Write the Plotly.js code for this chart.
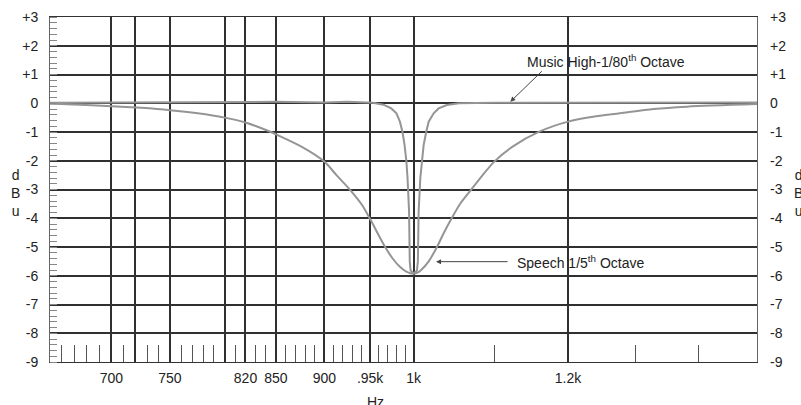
<!DOCTYPE html>
<html><head><meta charset="utf-8">
<script src="https://cdn.plot.ly/plotly-3.0.1.min.js"></script>
<style>html,body{margin:0;padding:0;background:#fff}#chart{width:801px;height:405px}</style>
</head><body><div id="chart"></div>
<script>
// Speech 1/5th octave curve
const speechHz = [651, 660, 675, 700, 725, 750, 775, 800, 820, 845, 850, 876, 900, 913, 928, 941, 950, 967, 975.6, 984, 991, 996, 1000, 1004, 1009, 1018, 1028, 1036, 1046, 1057, 1070, 1085, 1100, 1124, 1160, 1200, 1236, 1276, 1328, 1381, 1500];
const speechDb = [-0.02, -0.03, -0.05, -0.1, -0.16, -0.24, -0.35, -0.5, -0.67, -1.0, -1.08, -1.51, -2.03, -2.5, -3.02, -3.54, -4.03, -5.0, -5.4, -5.69, -5.85, -5.91, -5.92, -5.9, -5.8, -5.5, -5.0, -4.53, -4.0, -3.48, -3.02, -2.5, -2.03, -1.51, -0.99, -0.64, -0.47, -0.35, -0.2, -0.12, -0.03];

// Music High-1/80th octave curve
const musicHz = [651, 700, 750, 800, 850, 900, 925, 953, 965, 974, 980, 984, 987, 989.4, 991.5, 992.9, 994.7, 995.5, 996.5, 1000, 1004, 1005.1, 1006, 1008, 1010, 1012, 1015, 1018, 1024, 1030, 1040, 1055, 1100, 1200, 1300, 1500];
const musicDb = [0.02, 0.03, 0.04, 0.05, 0.05, 0.03, 0.05, 0.02, -0.05, -0.18, -0.35, -0.64, -1.0, -1.45, -2.0, -2.6, -3.77, -5.5, -5.82, -5.92, -5.82, -5.5, -3.77, -2.6, -2.0, -1.45, -1.0, -0.64, -0.35, -0.18, -0.06, 0.0, 0.02, 0.03, 0.03, 0.03];

const xTickVals = [700, 720, 750, 800, 820, 850, 900, 950, 1000, 1200];
const xTickText = ['700', '', '750', '', '820', '850', '900', '.95k', '1k', '1.2k'];
const xMinorVals = [660, 670, 680, 690, 710, 730, 740, 760, 770, 780, 790, 810, 830, 840, 860, 870, 880, 890, 910, 920, 930, 940, 960, 970, 980, 990, 1100, 1300, 1400];
const yTickVals = [3, 2, 1, 0, -1, -2, -3, -4, -5, -6, -7, -8, -9];
const yTickText = ['+3', '+2', '+1', '0', '-1', '-2', '-3', '-4', '-5', '-6', '-7', '-8', '-9'];

const curveColor = '#959595';
const gridColor = '#303030';
const FONT = 'Arial, "Liberation Sans", sans-serif';

const traces = [
  {x: speechHz, y: speechDb, type: 'scatter', mode: 'lines', line: {color: curveColor, width: 2, shape: 'spline', smoothing: 0.8}, hoverinfo: 'skip'},
  {x: musicHz, y: musicDb, type: 'scatter', mode: 'lines', line: {color: curveColor, width: 2}, hoverinfo: 'skip'},
  {x: [speechHz[0]], y: [speechDb[0]], yaxis: 'y2', type: 'scatter', mode: 'markers', marker: {opacity: 0}, hoverinfo: 'skip'}
];

const layout = {
  width: 801, height: 405,
  margin: {l: 50, r: 44, t: 17, b: 43},
  paper_bgcolor: '#fff', plot_bgcolor: '#fff',
  showlegend: false,
  font: {family: FONT, size: 14, color: '#222'},
  xaxis: {
    type: 'log', range: [Math.log10(651), Math.log10(1500)],
    tickmode: 'array', tickvals: xTickVals, ticktext: xTickText,
    ticks: '', showgrid: true, gridcolor: gridColor, gridwidth: 2,
    showline: true, linecolor: '#333', linewidth: 1, mirror: true, zeroline: false,
    ticklabelstandoff: 3,
    tickfont: {family: FONT, size: 14, color: '#222'},
    minor: {tickmode: 'array', tickvals: xMinorVals, ticks: 'inside', ticklen: 17, tickcolor: '#555', tickwidth: 1, showgrid: false}
  },
  yaxis: {
    range: [-9, 3], tickmode: 'array', tickvals: yTickVals, ticktext: yTickText,
    ticks: '', showgrid: true, gridcolor: gridColor, gridwidth: 2, zeroline: false,
    showline: true, linecolor: '#666', linewidth: 1, mirror: true,
    ticklabelstandoff: 8,
    tickfont: {family: FONT, size: 14, color: '#222'},
    minor: {dtick: 0.2, tick0: 0, ticks: 'inside', ticklen: 7, tickcolor: '#888', tickwidth: 1, showgrid: false}
  },
  yaxis2: {
    overlaying: 'y', side: 'right', range: [-9, 3],
    tickmode: 'array', tickvals: yTickVals, ticktext: yTickText,
    ticks: '', showgrid: false, zeroline: false, showline: false,
    ticklabelstandoff: 12,
    tickfont: {family: FONT, size: 14, color: '#222'}
  },
  annotations: [
    {x: Math.log10(1141), y: 1.47, xref: 'x', yref: 'y', text: 'Music High-1/80<sup>th</sup> Octave', showarrow: false, xanchor: 'left', yanchor: 'middle', font: {family: FONT, size: 14, color: '#222'}},
    {x: Math.log10(1121), y: 0.05, xref: 'x', yref: 'y', text: '', showarrow: true, ax: 33, ay: -32, arrowhead: 2, arrowsize: 1, arrowwidth: 1, arrowcolor: '#444'},
    {x: Math.log10(1127.6), y: -5.51, xref: 'x', yref: 'y', text: 'Speech 1/5<sup>th</sup> Octave', showarrow: false, xanchor: 'left', yanchor: 'middle', font: {family: FONT, size: 14, color: '#222'}},
    {x: Math.log10(1026.9), y: -5.51, xref: 'x', yref: 'y', text: '', showarrow: true, ax: 73, ay: 0, arrowhead: 2, arrowsize: 1, arrowwidth: 1, arrowcolor: '#444'},
    {x: -0.0495, y: 0.49, xref: 'paper', yref: 'paper', text: 'd<br>B<br>u', showarrow: false, xanchor: 'center', yanchor: 'middle', font: {family: FONT, size: 14, color: '#222'}},
    {x: 1.0495, y: 0.49, xref: 'paper', yref: 'paper', text: 'd<br>B<br>u', showarrow: false, xanchor: 'left', yanchor: 'middle', font: {family: FONT, size: 14, color: '#222'}},
    {x: 0.461, y: 0, xref: 'paper', yref: 'paper', text: 'Hz', showarrow: false, xanchor: 'center', yanchor: 'top', yshift: -30, font: {family: FONT, size: 14, color: '#222'}}
  ]
};

Plotly.newPlot('chart', traces, layout, {displayModeBar: false});
</script>
</body></html>
